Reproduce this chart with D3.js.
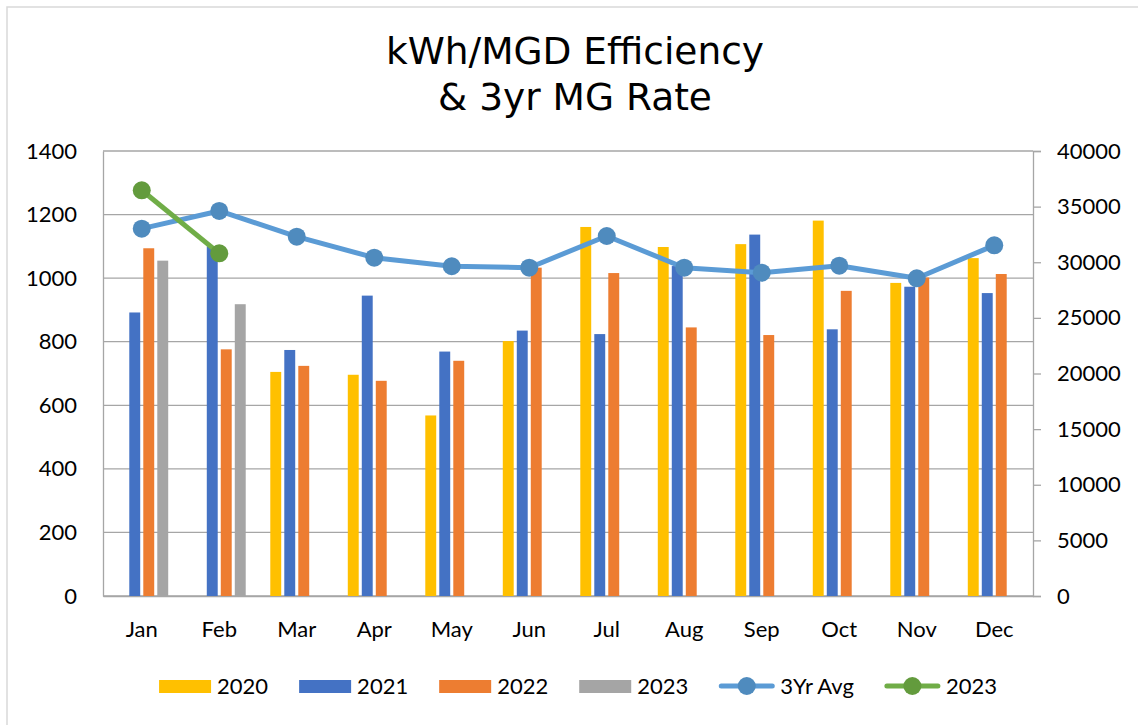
<!DOCTYPE html>
<html>
<head>
<meta charset="utf-8">
<script src="https://cdn.jsdelivr.net/npm/d3@7"></script>
<style>
  body { margin: 0; background: #fff; }
  svg text { font-family: Lato, "Open Sans", sans-serif; fill: #000; }
</style>
</head>
<body>
<svg id="canvas" width="1138" height="725"></svg>
<script>
// data
let months = ['Jan','Feb','Mar','Apr','May','Jun','Jul','Aug','Sep','Oct','Nov','Dec'];
let barSeries = ['2020','2021','2022','2023'];
let kwh2020 = [null, null, 705, 696, 568, 802, 1161, 1098, 1107, 1181, 985, 1063];
let kwh2021 = [892, 1100, 774, 945, 769, 835, 824, 1038, 1137, 839, 973, 953];
let kwh2022 = [1094, 776, 724, 677, 740, 1033, 1016, 845, 821, 960, 1002, 1013];
let kwh2023 = [1055, 918, null, null, null, null, null, null, null, null, null, null];
let avg3yr = [33020, 34610, 32300, 30410, 29640, 29510, 32360, 29510, 29060, 29690, 28560, 31520];
let rate2023 = [36470, 30800];
let leftTicks = [0, 200, 400, 600, 800, 1000, 1200, 1400];
let rightTicks = [0, 5000, 10000, 15000, 20000, 25000, 30000, 35000, 40000];

let colors = {'2020': '#FFC000', '2021': '#4472C4', '2022': '#ED7D31', '2023': '#A5A5A5'};
let barData = {'2020': kwh2020, '2021': kwh2021, '2022': kwh2022, '2023': kwh2023};

let canvas = d3.select('#canvas');
let plotLeft = 103, plotRight = 1033, plotTop = 151, plotBottom = 596;

// chart border
canvas.append('rect')
    .attr('x', 7).attr('y', 7).attr('width', 1140).attr('height', 730)
    .attr('fill', 'none').attr('stroke', '#D9D9D9').attr('stroke-width', 1.5);

// title
let title = canvas.append('text')
    .attr('text-anchor', 'middle')
    .style('font-family', '"DejaVu Sans", Verdana, sans-serif')
    .style('font-size', '37.5px');
title.append('tspan').attr('x', 575).attr('y', 64).text('kWh/MGD Efficiency');
title.append('tspan').attr('x', 575).attr('y', 110).text('& 3yr MG Rate');

let x0 = d3.scaleBand().domain(months).range([plotLeft, plotRight]);
let bw = x0.bandwidth();
let x1 = d3.scaleBand().domain(barSeries)
    .range([bw / 2 - 28, bw / 2 + 28])
    .paddingInner(0.22).paddingOuter(0.11);
let yL = d3.scaleLinear().domain([0, 1400]).range([plotBottom, plotTop]);
let yR = d3.scaleLinear().domain([0, 40000]).range([plotBottom, plotTop]);

// gridlines
canvas.append('g').selectAll('line')
    .data(leftTicks)
    .enter()
    .append('line')
    .attr('x1', plotLeft).attr('x2', plotRight)
    .attr('y1', d => yL(d)).attr('y2', d => yL(d))
    .attr('stroke', '#A6A6A6').attr('stroke-width', 1.3);

// left axis
let axisL = canvas.append('g')
    .attr('transform', 'translate(' + plotLeft + ',0)')
    .call(d3.axisLeft(yL).tickValues(leftTicks).tickSize(0).tickPadding(26).tickFormat(d3.format('d')));
axisL.select('.domain').attr('stroke', '#A6A6A6').attr('stroke-width', 1.3);
axisL.selectAll('text').style('font-size', '22px').style('font-family', 'Lato, sans-serif');

// right axis
let axisR = canvas.append('g')
    .attr('transform', 'translate(' + plotRight + ',0)')
    .call(d3.axisRight(yR).tickValues(rightTicks).tickSize(8).tickPadding(16).tickFormat(d3.format('d')));
axisR.select('.domain').attr('stroke', '#A6A6A6').attr('stroke-width', 1.3);
axisR.selectAll('line').attr('stroke', '#A6A6A6').attr('stroke-width', 1.3);
axisR.selectAll('text').style('font-size', '22px').style('font-family', 'Lato, sans-serif');

// bottom axis
let axisB = canvas.append('g')
    .attr('transform', 'translate(0,' + plotBottom + ')')
    .call(d3.axisBottom(x0).tickSize(0).tickPadding(25));
axisB.select('.domain').attr('stroke', '#A6A6A6').attr('stroke-width', 1.3);
axisB.selectAll('text').style('font-size', '22px').style('font-family', 'Lato, sans-serif');

// bars
barSeries.forEach(s => {
    canvas.append('g').selectAll('rect')
        .data(months.map((m, i) => ({month: m, value: barData[s][i]})).filter(d => d.value != null))
        .enter()
        .append('rect')
        .attr('x', d => x0(d.month) + x1(s))
        .attr('width', x1.bandwidth())
        .attr('y', d => yL(d.value))
        .attr('height', d => plotBottom - yL(d.value))
        .attr('fill', colors[s]);
});

// lines on the right axis
let drawLine = (values, lineColor, dotColor) => {
    let pts = values.map((v, i) => ({month: months[i], value: v}));
    let line = d3.line()
        .x(d => x0(d.month) + bw / 2)
        .y(d => yR(d.value));
    canvas.append('path')
        .datum(pts)
        .attr('d', line)
        .attr('fill', 'none')
        .attr('stroke', lineColor)
        .attr('stroke-width', 5)
        .attr('stroke-linejoin', 'round');
    canvas.append('g').selectAll('circle')
        .data(pts)
        .enter()
        .append('circle')
        .attr('cx', d => x0(d.month) + bw / 2)
        .attr('cy', d => yR(d.value))
        .attr('r', 9)
        .attr('fill', dotColor);
};
drawLine(avg3yr, '#5B9BD5', '#4F8BBE');
drawLine(rate2023, '#70AD47', '#639B3D');

// legend
let legendItems = [
    {label: '2020', type: 'bar', color: colors['2020']},
    {label: '2021', type: 'bar', color: colors['2021']},
    {label: '2022', type: 'bar', color: colors['2022']},
    {label: '2023', type: 'bar', color: colors['2023']},
    {label: '3Yr Avg', type: 'line', color: '#5B9BD5', dot: '#4F8BBE'},
    {label: '2023', type: 'line', color: '#70AD47', dot: '#639B3D'}
];
let legend = canvas.append('g');
let ly = 686, lx = 0, itemGap = 31;
legendItems.forEach(item => {
    let g = legend.append('g').attr('transform', 'translate(' + lx + ',0)');
    let sw = item.type === 'bar' ? 52 : 55;
    if (item.type === 'bar') {
        g.append('rect').attr('x', 0).attr('y', ly - 6).attr('width', sw).attr('height', 13).attr('fill', item.color);
    } else {
        g.append('line').attr('x1', 2).attr('x2', sw - 2).attr('y1', ly).attr('y2', ly)
            .attr('stroke', item.color).attr('stroke-width', 5).attr('stroke-linecap', 'round');
        g.append('circle').attr('cx', sw / 2).attr('cy', ly).attr('r', 9).attr('fill', item.dot);
    }
    let t = g.append('text').attr('x', sw + 6).attr('y', ly + 8)
        .style('font-size', '22px').text(item.label);
    lx += sw + 6 + t.node().getComputedTextLength() + itemGap;
});
let legendWidth = lx - itemGap;
legend.attr('transform', 'translate(' + (578 - legendWidth / 2) + ',0)');
</script>
</body>
</html>
